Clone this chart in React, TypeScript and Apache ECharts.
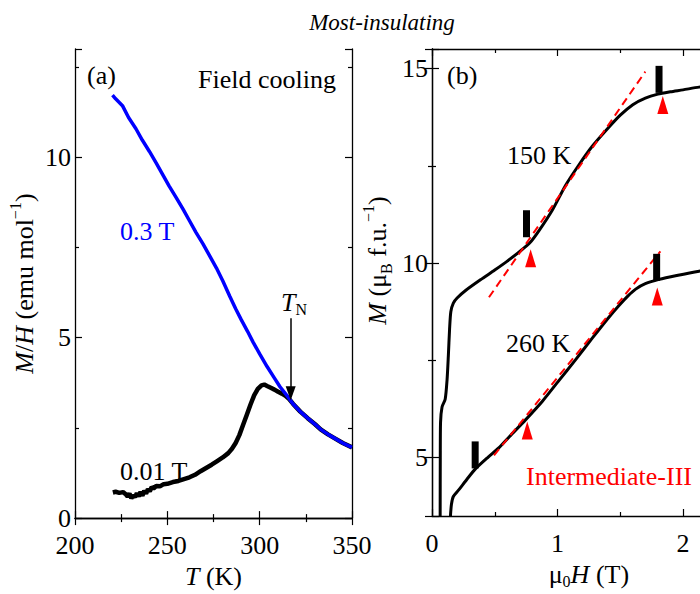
import React, { useEffect, useRef } from "react";
import * as echarts from "echarts";

// ---------- Panel (a): M/H vs T, field cooling ----------
const fcHighField: [number, number][] = [
  [220.3, 11.72], [222, 11.62], [225.7, 11.43], [229, 11.1], [233, 10.79], [236.5, 10.47],
  [240.3, 10.16], [244, 9.84], [247.5, 9.52], [251, 9.2], [254.8, 8.88], [258.5, 8.56],
  [262, 8.24], [265.5, 7.92], [269.3, 7.6], [273, 7.26], [276.6, 6.93], [280, 6.58],
  [283.8, 6.15], [287, 5.8], [290, 5.5], [293.5, 5.17], [296.5, 4.87], [300, 4.55],
  [304, 4.2], [308, 3.88], [311, 3.64], [315, 3.38], [318, 3.17], [322, 2.95],
  [326, 2.77], [330, 2.6], [333, 2.46], [337, 2.32], [340, 2.23], [345, 2.08], [350, 1.96],
];

const fcLowField: [number, number][] = [
  [220.5, 0.71], [222, 0.73], [224, 0.7], [226, 0.72], [227.5, 0.66], [228.5, 0.6],
  [229.5, 0.68], [230.5, 0.55], [231.5, 0.63], [232.5, 0.58], [233.5, 0.69], [234.5, 0.6],
  [235.5, 0.73], [236.5, 0.62], [237.5, 0.76], [238.5, 0.68], [239.5, 0.8], [240.5, 0.74],
  [241.5, 0.86], [242.5, 0.82], [244, 0.89], [246, 0.88], [248, 0.94], [250, 0.95],
  [253, 1.0], [256, 1.03], [259, 1.08], [262, 1.13], [265, 1.2], [268, 1.3], [271, 1.39],
  [274, 1.48], [277, 1.58], [280, 1.68], [283, 1.8], [285, 1.92], [287, 2.08], [289, 2.3],
  [291, 2.58], [293, 2.86], [295, 3.14], [297, 3.4], [299, 3.58], [301, 3.68], [302.5, 3.7],
  [304, 3.66], [306, 3.61], [308, 3.56], [310, 3.5], [312, 3.45], [314, 3.39], [316, 3.3],
  [318, 3.17], [322, 2.95], [326, 2.77], [330, 2.6], [333, 2.46], [337, 2.32], [340, 2.23],
  [345, 2.08], [350, 1.96],
];

const tnArrow: [number, number][] = [[316.8, 5.54], [316.8, 3.46]];

// ---------- Panel (b): M vs mu0H ----------
const m150K: [number, number][] = [
  [0.065, 3.5], [0.066, 5.0], [0.068, 5.9], [0.08, 6.3], [0.105, 6.5], [0.12, 7.0],
  [0.13, 7.6], [0.14, 8.3], [0.15, 8.75], [0.17, 8.97], [0.2, 9.1], [0.27, 9.3],
  [0.4, 9.6], [0.5, 9.82], [0.6, 10.05], [0.7, 10.3], [0.78, 10.52], [0.85, 10.82],
  [0.957, 11.35], [1.065, 12.0], [1.17, 12.52], [1.277, 13.0], [1.384, 13.4],
  [1.5, 13.8], [1.6, 14.07], [1.7, 14.24], [1.8, 14.34], [1.9, 14.4], [2.0, 14.45],
  [2.128, 14.52], [2.3, 14.58], [2.5, 14.63],
];

const m260K: [number, number][] = [
  [0.147, 3.5], [0.155, 3.8], [0.17, 4.0], [0.213, 4.17], [0.28, 4.45], [0.346, 4.71],
  [0.45, 5.02], [0.532, 5.25], [0.62, 5.55], [0.745, 5.97], [0.88, 6.45], [1.011, 6.98],
  [1.14, 7.5], [1.277, 8.07], [1.4, 8.57], [1.49, 8.91], [1.56, 9.15], [1.623, 9.33],
  [1.7, 9.47], [1.809, 9.58], [1.95, 9.68], [2.128, 9.79], [2.3, 9.87], [2.5, 9.93],
];

const fit150K: [number, number][] = [[0.454, 9.12], [1.7, 14.92]];
const fit260K: [number, number][] = [[0.494, 5.06], [1.82, 10.3]];

const jumpBars: [number, number][] = [[0.753, 11.01], [1.809, 14.72], [1.79, 9.89], [0.344, 5.07]];
const kinkArrows: [number, number][] = [[0.786, 10.12], [1.839, 14.06], [1.795, 9.14], [0.759, 5.7]];

// ---------- Axis ticks ----------
const tTicks = { min: 200, max: 350, interval: 50 };
const mhTicks = { min: 0, max: 13 };
const hTicks = { min: 0, max: 2.5, interval: 1 };
const mTicks = { min: 3.5, max: 15.5 };

const FONT = "Liberation Serif, Times New Roman, serif";
const FS = 26;

const richStyles = {
  i: { fontFamily: FONT, fontSize: FS, fontStyle: "italic", color: "#000" },
  n: { fontFamily: FONT, fontSize: FS, color: "#000" },
  sup: { fontFamily: FONT, fontSize: 16, color: "#000", verticalAlign: "top", lineHeight: 34 },
  sub: { fontFamily: FONT, fontSize: 16, color: "#000", verticalAlign: "bottom", lineHeight: 30 },
};

function axisCommon(showLabels: boolean) {
  return {
    type: "value" as const,
    axisLine: { show: true, lineStyle: { color: "#000", width: 1.3 } },
    axisTick: { show: true, inside: true, length: 7, lineStyle: { color: "#000", width: 1.2 } },
    minorTick: { show: true, splitNumber: 2, length: 4, lineStyle: { color: "#000", width: 1.2 } },
    splitLine: { show: false },
    minorSplitLine: { show: false },
    axisLabel: {
      show: showLabels,
      color: "#000",
      fontFamily: FONT,
      fontSize: FS,
      margin: 6,
    },
  };
}

export default function App() {
  const ref = useRef<HTMLDivElement>(null);

  useEffect(() => {
    if (!ref.current) return;
    const chart = echarts.init(ref.current, undefined, { renderer: "svg" });

    const fmtInt = (v: number) => (Math.abs(v % 5) < 1e-9 ? String(v) : "");
    const nameStyle = { fontFamily: FONT, fontSize: FS, color: "#000", rich: richStyles };

    chart.setOption({
      animation: false,
      backgroundColor: "#fff",
      grid: [
        { left: 75, top: 49, width: 277, height: 475 },
        { left: 432, top: 49, width: 313.75, height: 475 },
      ],
      xAxis: [
        {
          ...axisCommon(true),
          gridIndex: 0,
          position: "bottom",
          ...tTicks,
          axisLabel: { ...axisCommon(true).axisLabel, margin: 15, lineHeight: 24 },
          name: "{i|T} (K)",
          nameLocation: "middle",
          nameGap: 43,
          nameTextStyle: nameStyle,
        },
        { ...axisCommon(false), gridIndex: 0, position: "top", ...tTicks },
        {
          ...axisCommon(true),
          gridIndex: 1,
          position: "bottom",
          ...hTicks,
          axisLabel: {
            ...axisCommon(true).axisLabel,
            margin: 15,
            lineHeight: 24,
            formatter: (v: number) => (v <= 2 ? String(v) : ""),
          },
          name: "μ{sub|0}{i|H} (T)",
          nameLocation: "middle",
          nameGap: 43,
          nameTextStyle: nameStyle,
        },
        { ...axisCommon(false), gridIndex: 1, position: "top", ...hTicks },
      ],
      yAxis: [
        {
          ...axisCommon(true),
          gridIndex: 0,
          position: "left",
          ...mhTicks,
          splitNumber: 2,
          axisLabel: {
            ...axisCommon(true).axisLabel,
            margin: 4,
            lineHeight: 20,
            formatter: fmtInt,
            showMaxLabel: false,
          },
          name: "{i|M}/{i|H} (emu mol{sup|−1})",
          nameLocation: "middle",
          nameRotate: 90,
          nameGap: 34,
          nameTextStyle: nameStyle,
        },
        { ...axisCommon(false), gridIndex: 0, position: "right", ...mhTicks, splitNumber: 2 },
        {
          ...axisCommon(true),
          gridIndex: 1,
          position: "left",
          ...mTicks,
          splitNumber: 2,
          axisLabel: {
            ...axisCommon(true).axisLabel,
            margin: 4,
            lineHeight: 20,
            formatter: fmtInt,
            showMinLabel: false,
            showMaxLabel: false,
          },
          name: "{i|M} (μ{sub|B} f.u.{sup|−1})",
          nameLocation: "middle",
          nameRotate: 90,
          nameGap: 38,
          nameTextStyle: { ...nameStyle, padding: [0, 0, 0, 44] },
        },
        { ...axisCommon(false), gridIndex: 1, position: "right", ...mTicks, splitNumber: 2 },
      ],
      series: [
        {
          name: "0.01 T",
          type: "line",
          xAxisIndex: 0,
          yAxisIndex: 0,
          data: fcLowField,
          showSymbol: false,
          symbol: "none",
          lineStyle: { color: "#000", width: 4.5 },
          z: 2,
          markLine: {
            silent: true,
            symbol: ["none", "triangle"],
            symbolSize: [10, 14],
            label: { show: false },
            lineStyle: { color: "#000", width: 1.5, type: "solid" },
            data: [[{ coord: tnArrow[0] }, { coord: tnArrow[1] }]],
          },
        },
        {
          name: "0.3 T",
          type: "line",
          xAxisIndex: 0,
          yAxisIndex: 0,
          data: fcHighField,
          showSymbol: false,
          symbol: "none",
          lineStyle: { color: "#0000ff", width: 3.5 },
          z: 3,
        },
        {
          name: "150 K",
          type: "line",
          xAxisIndex: 2,
          yAxisIndex: 2,
          data: m150K,
          symbol: "none",
          smooth: 0.25,
          lineStyle: { color: "#000", width: 3 },
          z: 2,
        },
        {
          name: "260 K",
          type: "line",
          xAxisIndex: 2,
          yAxisIndex: 2,
          data: m260K,
          symbol: "none",
          smooth: 0.25,
          lineStyle: { color: "#000", width: 3 },
          z: 2,
        },
        {
          name: "fit 150 K",
          type: "line",
          xAxisIndex: 2,
          yAxisIndex: 2,
          data: fit150K,
          symbol: "none",
          lineStyle: { color: "#ff0000", width: 2, type: [8, 5] },
          z: 4,
        },
        {
          name: "fit 260 K",
          type: "line",
          xAxisIndex: 2,
          yAxisIndex: 2,
          data: fit260K,
          symbol: "none",
          lineStyle: { color: "#ff0000", width: 2, type: [8, 5] },
          z: 4,
        },
        {
          name: "jumps",
          type: "scatter",
          xAxisIndex: 2,
          yAxisIndex: 2,
          data: jumpBars,
          symbol: "rect",
          symbolSize: [7, 27],
          itemStyle: { color: "#000", opacity: 1 },
          z: 5,
        },
        {
          name: "kinks",
          type: "scatter",
          xAxisIndex: 2,
          yAxisIndex: 2,
          data: kinkArrows,
          symbol: "triangle",
          symbolSize: [11, 18],
          itemStyle: { color: "#ff0000", opacity: 1 },
          z: 5,
        },
      ],
      graphic: [
        {
          type: "text",
          x: 382,
          y: 22,
          style: {
            text: "Most-insulating",
            fontFamily: FONT,
            fontSize: 23,
            fontStyle: "italic",
            fill: "#000",
            textAlign: "center",
            textVerticalAlign: "middle",
          },
        },
        {
          type: "text",
          x: 87,
          y: 75,
          style: { text: "(a)", fontFamily: FONT, fontSize: FS, fill: "#000", textVerticalAlign: "middle" },
        },
        {
          type: "text",
          x: 336,
          y: 79,
          style: {
            text: "Field cooling",
            fontFamily: FONT,
            fontSize: FS,
            fill: "#000",
            textAlign: "right",
            textVerticalAlign: "middle",
          },
        },
        {
          type: "text",
          x: 120,
          y: 231,
          style: { text: "0.3 T", fontFamily: FONT, fontSize: FS, fill: "#0000ff", textVerticalAlign: "middle" },
        },
        {
          type: "text",
          x: 120,
          y: 471,
          style: { text: "0.01 T", fontFamily: FONT, fontSize: FS, fill: "#000", textVerticalAlign: "middle" },
        },
        {
          type: "text",
          x: 281,
          y: 302,
          style: {
            text: "{i|T}{sub|N}",
            rich: richStyles,
            textVerticalAlign: "middle",
          },
        },
        {
          type: "text",
          x: 447,
          y: 75,
          style: { text: "(b)", fontFamily: FONT, fontSize: FS, fill: "#000", textVerticalAlign: "middle" },
        },
        {
          type: "text",
          x: 507,
          y: 155,
          style: { text: "150 K", fontFamily: FONT, fontSize: FS, fill: "#000", textVerticalAlign: "middle" },
        },
        {
          type: "text",
          x: 506,
          y: 343,
          style: { text: "260 K", fontFamily: FONT, fontSize: FS, fill: "#000", textVerticalAlign: "middle" },
        },
        {
          type: "text",
          x: 526,
          y: 476,
          style: {
            text: "Intermediate-III",
            fontFamily: FONT,
            fontSize: FS,
            fill: "#ff0000",
            textVerticalAlign: "middle",
          },
        },
      ],
    });

    return () => chart.dispose();
  }, []);

  return (
    <div
      style={{
        position: "fixed",
        left: 0,
        top: 0,
        width: 700,
        height: 594,
        overflow: "hidden",
        background: "#fff",
      }}
    >
      <div ref={ref} style={{ width: 800, height: 594 }} />
    </div>
  );
}
